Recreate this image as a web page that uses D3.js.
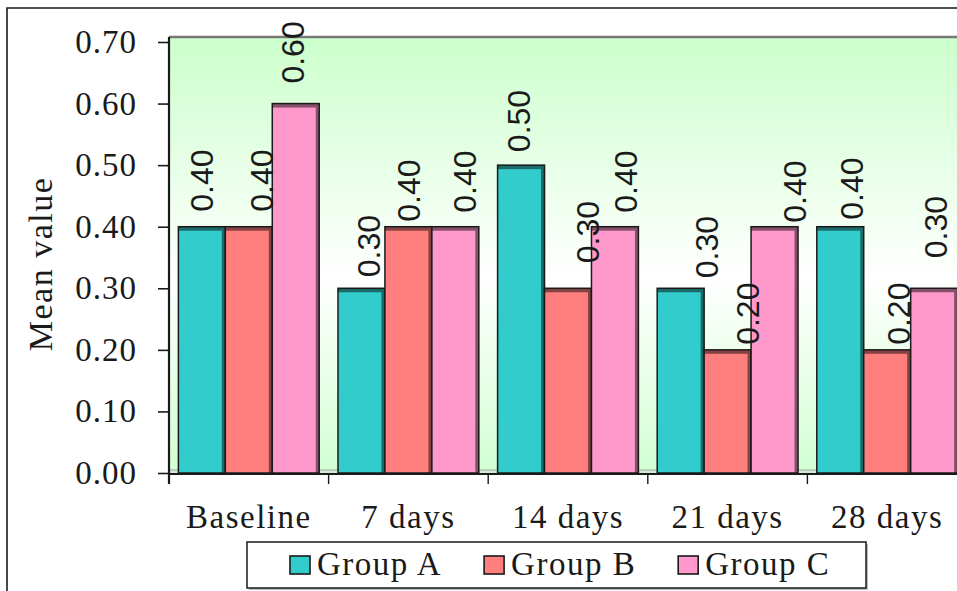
<!DOCTYPE html>
<html>
<head>
<meta charset="utf-8">
<script src="https://cdn.jsdelivr.net/npm/d3@7"></script>
<style>
  html, body { margin: 0; padding: 0; background: #ffffff; }
  svg { display: block; }
</style>
</head>
<body>
<svg id="chart" width="957" height="591"></svg>
<script>
// ---- data ----
const categories = ["Baseline", "7 days", "14 days", "21 days", "28 days"];
const seriesNames = ["Group A", "Group B", "Group C"];
const groupA = [0.40, 0.30, 0.50, 0.30, 0.40];
const groupB = [0.40, 0.40, 0.30, 0.20, 0.20];
const groupC = [0.60, 0.40, 0.40, 0.40, 0.30];
const yTickValues = [0, 0.1, 0.2, 0.3, 0.4, 0.5, 0.6, 0.7];

// ---- styling ----
const seriesColors = ["#33CCCC", "#FF7F7F", "#FF99CC"];
// value-label nudges (px): sideways shift from bar centre and gap above bar top
const labelDx  = [[0, 7, -3, 26, 11], [13, 0, 19, 20, 11], [-3, 9, 11, 20, 1]];
const labelGap = [[15, 11, 13, 10, 7], [15, 5, 25, 5, 5], [20, 14, 14, 4, 30]];

const serif = "'Liberation Serif', 'Times New Roman', serif";
const sans = "'Liberation Sans', Arial, sans-serif";

const seriesValues = [groupA, groupB, groupC];
const series = seriesNames.map((name, i) => ({
  name, color: seriesColors[i],
  values: categories.map((c, j) => ({ cat: c, value: seriesValues[i][j], i, j }))
}));

const svg = d3.select("#chart");

// ---- scales ----
const plot = { left: 169, right: 967, top: 37, bottom: 473 };
const x0 = d3.scaleBand().domain(categories).range([plot.left, plot.right]).padding(0);
const x1 = d3.scaleBand().domain(seriesNames).range([0, x0.bandwidth()])
  .paddingInner(0).paddingOuter(0.2);
const y = d3.scaleLinear().domain([0, 0.7]).range([plot.bottom, 42]);

// ---- outer frame ----
svg.append("path")
  .attr("d", "M7,591 V8 H957")
  .attr("fill", "none").attr("stroke", "#1a1a1a").attr("stroke-width", 1.6);

// ---- plot background ----
const defs = svg.append("defs");
const grad = defs.append("linearGradient").attr("id", "wallGrad")
  .attr("x1", 0).attr("y1", 0).attr("x2", 0).attr("y2", 1);
grad.append("stop").attr("offset", "0").attr("stop-color", "#CCFFCC");
grad.append("stop").attr("offset", "0.55").attr("stop-color", "#FFFFFF");
grad.append("stop").attr("offset", "1").attr("stop-color", "#D2FFD2");

svg.append("rect")
  .attr("x", plot.left).attr("y", plot.top)
  .attr("width", plot.right - plot.left).attr("height", plot.bottom - plot.top)
  .attr("fill", "url(#wallGrad)");

svg.append("line")
  .attr("x1", plot.left).attr("x2", plot.right)
  .attr("y1", plot.top).attr("y2", plot.top)
  .attr("stroke", "#777").attr("stroke-width", 2.5);

// floor strip
svg.append("rect")
  .attr("x", plot.left).attr("y", plot.bottom - 3)
  .attr("width", plot.right - plot.left).attr("height", 4)
  .attr("fill", "#d4e8d4").attr("stroke", "#777").attr("stroke-width", 0.6);

// ---- bars ----
const bars = svg.append("g").selectAll("g")
  .data(series.flatMap(s => s.values.map(v => ({ ...v, color: s.color, name: s.name }))))
  .join("g")
  .attr("transform", d => `translate(${x0(d.cat) + x1(d.name)},0)`);

const bw = x1.bandwidth();
bars.append("rect")
  .attr("x", 0).attr("y", d => y(d.value))
  .attr("width", bw).attr("height", d => y(0) - y(d.value))
  .attr("fill", d => d.color);
bars.append("rect")
  .attr("x", 0).attr("y", d => y(d.value))
  .attr("width", bw).attr("height", 4)
  .attr("fill", d => d3.color(d.color).darker(1.8));
bars.append("rect")
  .attr("x", bw - 3.5).attr("y", d => y(d.value))
  .attr("width", 3.5).attr("height", d => y(0) - y(d.value))
  .attr("fill", d => d3.color(d.color).darker(1.8));
bars.append("rect")
  .attr("x", 0).attr("y", d => y(d.value))
  .attr("width", bw).attr("height", d => y(0) - y(d.value))
  .attr("fill", "none").attr("stroke", "#1a1a1a").attr("stroke-width", 1.5);

// ---- y axis ----
const yAxis = svg.append("g")
  .attr("transform", `translate(${plot.left},0)`)
  .call(d3.axisLeft(y).tickValues(yTickValues).tickFormat(d3.format(".2f"))
    .tickSize(11).tickPadding(21));
yAxis.select(".domain").remove();
yAxis.selectAll(".tick line").attr("stroke", "#1a1a1a").attr("stroke-width", 1.6);
yAxis.selectAll(".tick text")
  .attr("font-family", serif).attr("font-size", 33).attr("fill", "#1a1a1a")
  .attr("letter-spacing", "1px");

svg.append("line")
  .attr("x1", plot.left).attr("x2", plot.left)
  .attr("y1", plot.top).attr("y2", plot.bottom + 11)
  .attr("stroke", "#1a1a1a").attr("stroke-width", 2.2);

// ---- x axis ----
svg.append("line")
  .attr("x1", plot.left).attr("x2", plot.right)
  .attr("y1", plot.bottom + 1).attr("y2", plot.bottom + 1)
  .attr("stroke", "#1a1a1a").attr("stroke-width", 2);

svg.append("g").selectAll("line")
  .data(categories)
  .join("line")
  .attr("x1", d => x0(d)).attr("x2", d => x0(d))
  .attr("y1", plot.bottom).attr("y2", plot.bottom + 11)
  .attr("stroke", "#1a1a1a").attr("stroke-width", 1.4);

const xAxis = svg.append("g")
  .attr("transform", `translate(0,${plot.bottom + 1})`)
  .call(d3.axisBottom(x0).tickSize(0).tickPadding(31));
xAxis.select(".domain").remove();
xAxis.selectAll(".tick text")
  .attr("font-family", serif).attr("font-size", 33).attr("fill", "#1a1a1a")
  .attr("letter-spacing", "1.5px");

// ---- y axis title ----
svg.append("text")
  .attr("transform", "translate(52,264) rotate(-90)")
  .attr("text-anchor", "middle")
  .attr("font-family", serif).attr("font-size", 34).attr("fill", "#1a1a1a")
  .attr("letter-spacing", "1.5px")
  .text("Mean value");

// ---- value labels ----
svg.append("g").selectAll("text")
  .data(series.flatMap(s => s.values.map(v => ({ ...v, name: s.name }))))
  .join("text")
  .attr("transform", d => {
    const cx = x0(d.cat) + x1(d.name) + bw / 2 + labelDx[d.i][d.j];
    const cy = y(d.value) - labelGap[d.i][d.j];
    return `translate(${cx},${cy}) rotate(-90)`;
  })
  .attr("dy", "0.36em")
  .attr("text-anchor", "start")
  .attr("font-family", sans).attr("font-size", 32).attr("fill", "#1a1a1a")
  .text(d => d3.format(".2f")(d.value));

// ---- legend ----
const legend = svg.append("g");
legend.append("rect")
  .attr("x", 249).attr("y", 544).attr("width", 619).attr("height", 46)
  .attr("fill", "#bdbdbd");
legend.append("rect")
  .attr("x", 247).attr("y", 542).attr("width", 619).attr("height", 46)
  .attr("fill", "#ffffff").attr("stroke", "#1a1a1a").attr("stroke-width", 1.5);

let lx = 290;
series.forEach(s => {
  legend.append("rect")
    .attr("x", lx).attr("y", 556).attr("width", 20).attr("height", 18)
    .attr("fill", s.color).attr("stroke", "#1a1a1a").attr("stroke-width", 1.6);
  const t = legend.append("text")
    .attr("x", lx + 27).attr("y", 575)
    .attr("font-family", serif).attr("font-size", 33).attr("fill", "#1a1a1a")
    .attr("letter-spacing", "1.5px")
    .text(s.name);
  lx += 27 + t.node().getComputedTextLength() + 42;
});
</script>
</body>
</html>
